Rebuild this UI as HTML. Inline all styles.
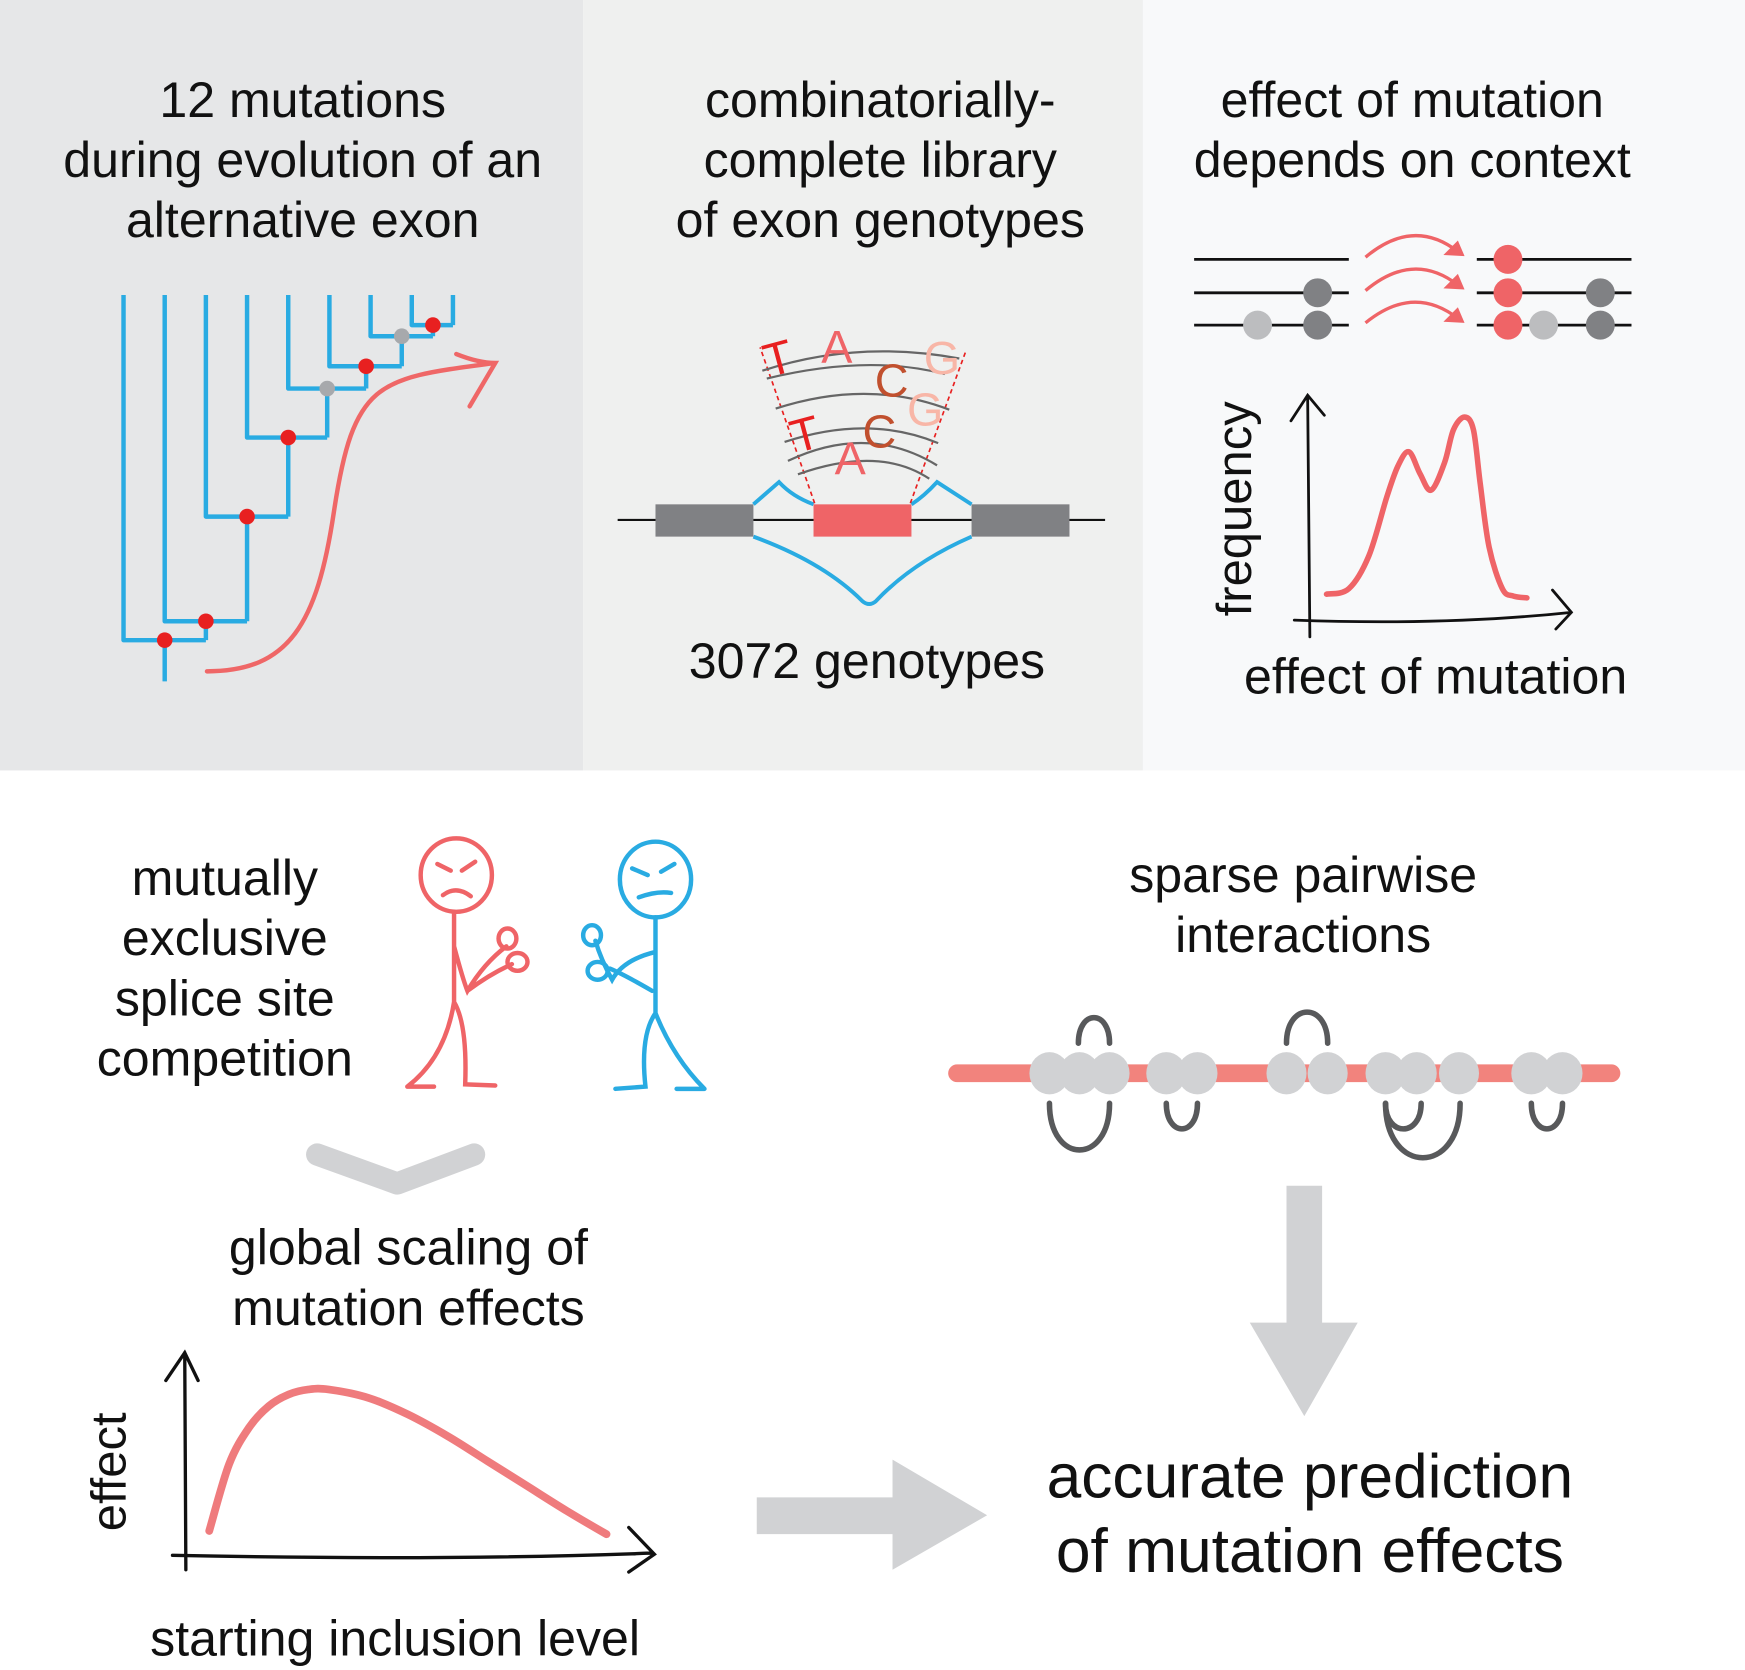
<!DOCTYPE html>
<html><head><meta charset="utf-8"><style>
html,body{margin:0;padding:0;background:#fff}
svg{display:block}
text{font-family:"Liberation Sans",sans-serif;fill:#111}
</style></head><body>
<svg id="fig" width="1745" height="1670" viewBox="0 0 1568 1500" preserveAspectRatio="none" xmlns="http://www.w3.org/2000/svg">
<rect x="0" y="0" width="524" height="692" fill="#e6e7e8"/>
<rect x="524" y="0" width="503" height="692" fill="#eff0ef"/>
<rect x="1027" y="0" width="541" height="692" fill="#f8f9fa"/>

<g font-size="45" text-anchor="middle">
<text x="272" y="105">12 mutations</text><text x="272" y="159">during evolution of an</text><text x="272" y="213">alternative exon</text></g>
<g font-size="45" text-anchor="middle">
<text x="791" y="105">combinatorially-</text><text x="791" y="159">complete library</text><text x="791" y="213">of exon genotypes</text></g>
<g font-size="45" text-anchor="middle">
<text x="1269" y="105">effect of mutation</text><text x="1269" y="159">depends on context</text></g>

<g id="tree" fill="none" stroke="#29abe2" stroke-width="4"></g>
<path d="M186,603 C260,603 285,560 300,460 C318,340 340,340 445,326 M410,318 C425,324 435,326 445,326 L422,365" fill="none" stroke="#ef6767" stroke-width="4" stroke-linecap="round"/>

<g>
<line x1="555" y1="467" x2="993" y2="467" stroke="#111" stroke-width="2"/>
<rect x="589" y="453" width="88" height="29" fill="#808184"/>
<rect x="873" y="453" width="88" height="29" fill="#808184"/>
<rect x="731" y="453" width="88" height="29" fill="#ef6467"/>
<path d="M677,453 L700,433 Q712,446 731,453 M819,453 Q830,446 842,433 L873,453 M677,482 Q740,505 775,540 Q781,545 787,540 Q820,505 873,482" fill="none" stroke="#29abe2" stroke-width="3.5"/>
<path d="M732,452 L683,312 M818,452 L868,315" stroke="#e82020" stroke-width="1.5" stroke-dasharray="4,3"/>
<g fill="none" stroke="#666" stroke-width="2">
<path d="M689,340 Q780,318 849,336"/><path d="M697,367 Q780,340 853,368"/><path d="M705,397 Q780,372 843,398"/><path d="M708,414 Q780,380 842,418"/><path d="M717,426 Q790,400 835,430"/><path d="M685,333 Q770,305 862,322"/>
</g>
<g font-size="42">
<text x="686" y="336" transform="rotate(-15 700 320)" style="fill:#e82020">T</text>
<text x="738" y="326" style="fill:#ef6467">A</text>
<text x="786" y="356" style="fill:#c1502e">C</text>
<text x="830" y="336" style="fill:#f8b6a7">G</text>
<text x="710" y="404" transform="rotate(-15 725 388)" style="fill:#e82020">T</text>
<text x="775" y="402" style="fill:#c1502e">C</text>
<text x="815" y="382" style="fill:#f8b6a7">G</text>
<text x="750" y="426" style="fill:#ef6467">A</text>
</g>
</g>
<text x="779" y="609" font-size="45" text-anchor="middle">3072 genotypes</text>

<g>
<g stroke="#111" stroke-width="2.5"><line x1="1073" y1="233" x2="1212" y2="233"/><line x1="1073" y1="263" x2="1212" y2="263"/><line x1="1073" y1="292" x2="1212" y2="292"/>
<line x1="1327" y1="233" x2="1466" y2="233"/><line x1="1327" y1="263" x2="1466" y2="263"/><line x1="1327" y1="292" x2="1466" y2="292"/></g>
<circle cx="1184" cy="263" r="13" fill="#808184"/><circle cx="1184" cy="292" r="13" fill="#808184"/><circle cx="1130" cy="292" r="13" fill="#bcbdbf"/>
<circle cx="1355" cy="233" r="13" fill="#ef6467"/><circle cx="1355" cy="263" r="13" fill="#ef6467"/><circle cx="1355" cy="292" r="13" fill="#ef6467"/>
<circle cx="1387" cy="292" r="13" fill="#bcbdbf"/><circle cx="1438" cy="263" r="13" fill="#808184"/><circle cx="1438" cy="292" r="13" fill="#808184"/>
<g fill="none" stroke="#ef6467" stroke-width="3"><path d="M1227,231 Q1270,195 1310,226"/><path d="M1227,261 Q1270,225 1310,256"/><path d="M1227,290 Q1270,255 1310,286"/></g>
<g fill="#ef6467"><path d="M1316,230 L1297,229 L1310,216 Z"/><path d="M1316,260 L1297,259 L1310,246 Z"/><path d="M1316,290 L1297,289 L1310,276 Z"/></g>
</g>

<g fill="none" stroke="#111" stroke-width="2.5" stroke-linecap="round">
<path d="M1177,572 L1175,355 M1160,378 L1175,355 L1190,373"/>
<path d="M1163,557 Q1300,562 1412,550 M1395,530 L1412,550 L1398,565"/>
</g>
<path id="freq-curve" fill="none" stroke="#ef6467" stroke-width="5" stroke-linecap="round" stroke-linejoin="round"/>
<text x="1124" y="457" font-size="44" text-anchor="middle" transform="rotate(-90 1124 457)">frequency</text>
<text x="1290" y="623" font-size="45" text-anchor="middle">effect of mutation</text>

<g font-size="45" text-anchor="middle">
<text x="202" y="804">mutually</text><text x="202" y="858">exclusive</text><text x="202" y="912">splice site</text><text x="202" y="966">competition</text></g>

<g fill="none" stroke="#ef6467" stroke-width="4" stroke-linecap="round">
<ellipse cx="410" cy="786" rx="32" ry="33"/>
<path d="M408,819 L408,900 Q400,950 366,976 M366,976 L390,976 M408,900 Q420,920 418,974 L445,975 M408,850 Q416,880 420,890 Q435,865 455,850 M420,890 Q440,875 460,866"/>
<ellipse cx="456" cy="843" rx="8" ry="9"/><ellipse cx="465" cy="864" rx="9" ry="8"/>
<path d="M393,776 L405,782 M427,774 L415,782 M398,804 Q410,795 423,805"/>
</g>
<g fill="none" stroke="#29abe2" stroke-width="4" stroke-linecap="round">
<ellipse cx="589" cy="790" rx="32" ry="34"/>
<path d="M589,824 L589,910 Q605,950 633,978 M633,978 L608,978 M589,910 Q575,930 580,976 L553,978 M589,855 Q560,862 550,880 Q540,862 535,845 M586,890 Q560,875 548,870"/>
<ellipse cx="532" cy="840" rx="8" ry="9"/><ellipse cx="537" cy="872" rx="9" ry="8"/>
<path d="M568,780 L582,786 M606,776 L594,783 M574,806 Q590,800 603,802"/>
</g>

<path d="M285,1037 L357,1063 L426,1037" fill="none" stroke="#d1d2d4" stroke-width="20" stroke-linecap="round" stroke-linejoin="round"/>

<g font-size="45" text-anchor="middle">
<text x="367" y="1136">global scaling of</text><text x="367" y="1190">mutation effects</text></g>

<g fill="none" stroke="#111" stroke-width="3" stroke-linecap="round">
<path d="M167,1410 L166,1215 M149,1240 L166,1215 L178,1240"/>
<path d="M155,1397 Q400,1402 585,1395 M565,1372 L588,1396 L565,1412"/>
</g>
<path id="scale-curve" fill="none" stroke="#ef7b7d" stroke-width="7" stroke-linecap="round"/>
<text x="113" y="1322" font-size="44" text-anchor="middle" transform="rotate(-90 113 1322)">effect</text>
<text x="355" y="1487" font-size="45" text-anchor="middle">starting inclusion level</text>

<g font-size="45" text-anchor="middle">
<text x="1171" y="801">sparse pairwise</text><text x="1171" y="855">interactions</text></g>
<line x1="860" y1="964" x2="1448" y2="964" stroke="#f2837d" stroke-width="16" stroke-linecap="round"/>
<g id="beads" fill="#d1d2d4"></g>
<g id="loops" fill="none" stroke="#58595b" stroke-width="5" stroke-linecap="round"></g>

<path d="M1156,1065 L1188,1065 L1188,1188 L1220,1188 L1172,1272 L1123,1188 L1156,1188 Z" fill="#d1d2d4"/>
<path d="M680,1345 L802,1345 L802,1311 L887,1361 L802,1410 L802,1378 L680,1378 Z" fill="#d1d2d4"/>

<g font-size="56" text-anchor="middle">
<text x="1177" y="1345">accurate prediction</text><text x="1177" y="1412">of mutation effects</text></g>
</svg>
<script>
// tree data
const leafX = [111,148,185,222,259,296,333,370,407];
const nodeX = [148,185,222,259,294,329,361,389];
const nodeY = [575,558,464,393,349,329,302,292];
const nodeMut = ["red","red","red","red","gray","red","gray","red"];
// frequency curve (effect x, frequency y) in panel units
const freqX = [0,10,19,27,32,37,42,47,53,57,62,66,69,73,79,84,90];
const freqY = [2,5,23,55,72,80,68,59,74,92,99,92,63,28,5,1,0];
// effect vs starting inclusion level
const inclX = [0,0.05,0.1,0.15,0.2,0.25,0.3,0.4,0.5,0.6,0.7,0.8,0.9,1];
const effY = [10,50,72,85,92,95,95,90,80,67,52,37,22,8];
// beads and loops
const beadPos = [943,970,997,1048,1076,1156,1193,1245,1273,1311,1376,1404];
const loopA = [969,1156,943,1048,1245,1245,1376];
const loopB = [997,1193,997,1076,1277,1312,1404];
const loopSide = [-1,-1,1,1,1,1,1];
const loopDepth = [23,28,42,23,23,49,23];

const NS="http://www.w3.org/2000/svg";
function mk(tag,attrs,parent){const e=document.createElementNS(NS,tag);for(const k in attrs)e.setAttribute(k,attrs[k]);parent.appendChild(e);return e;}
function smooth(pts){let d=`M${pts[0][0].toFixed(1)},${pts[0][1].toFixed(1)} `;
 for(let i=0;i<pts.length-1;i++){const p0=pts[Math.max(0,i-1)],p1=pts[i],p2=pts[i+1],p3=pts[Math.min(pts.length-1,i+2)];
 const c1=[p1[0]+(p2[0]-p0[0])/6,p1[1]+(p2[1]-p0[1])/6],c2=[p2[0]-(p3[0]-p1[0])/6,p2[1]-(p3[1]-p1[1])/6];
 d+=`C${c1[0].toFixed(1)},${c1[1].toFixed(1)} ${c2[0].toFixed(1)},${c2[1].toFixed(1)} ${p2[0].toFixed(1)},${p2[1].toFixed(1)} `;}
 return d;}
const tree=document.getElementById('tree');
let d="";
for(let k=0;k<nodeY.length;k++){
  const rx = k+1<nodeY.length ? nodeX[k+1] : leafX[leafX.length-1];
  d+=`M${leafX[k]},265 L${leafX[k]},${nodeY[k]} L${rx},${nodeY[k]} `;
  if(k+1<nodeY.length) d+=`M${rx},${nodeY[k]} L${rx},${nodeY[k+1]} `; else d+=`M${rx},${nodeY[k]} L${rx},265 `;
}
d+=`M${nodeX[0]},${nodeY[0]} L${nodeX[0]},612`;
const tp=mk('path',{d:d,'stroke-linejoin':'round'},tree);


for(let k=0;k<nodeY.length;k++){
  const c=mk('circle',{cx:nodeX[k],cy:nodeY[k],r:7,fill:nodeMut[k]==="red"?"#e82020":"#a7a9ac",stroke:"none"},tree);
  
  
}
const fx=v=>1192+v*(1372-1192)/90, fy=v=>537-v*(537-373)/100;
document.getElementById('freq-curve').setAttribute('d',smooth(freqX.map((x,i)=>[fx(x),fy(freqY[i])])));
const sx=v=>188+v*(545-188), sy=v=>1390-v*(1390-1248)/95;
document.getElementById('scale-curve').setAttribute('d',smooth(inclX.map((x,i)=>[sx(x),sy(effY[i])])));
const beads=document.getElementById('beads');
beadPos.forEach(x=>{const e=mk('ellipse',{cx:x,cy:964,rx:18,ry:19},beads);

});
const loops=document.getElementById('loops');
loopA.forEach((a,i)=>{const b=loopB[i],s=loopSide[i],y0=s<0?937:991,h=loopDepth[i];
const e=mk('path',{d:`M${a},${y0} C${a},${y0+s*h*1.33} ${b},${y0+s*h*1.33} ${b},${y0}`},loops);

});
</script>
</body></html>
